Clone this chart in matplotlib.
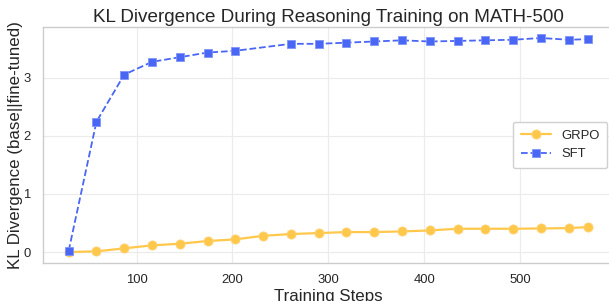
import matplotlib
matplotlib.use("Agg")
import matplotlib.pyplot as plt
import seaborn as sns

sns.set_theme(style="whitegrid")
plt.rcParams['font.family'] = ['Liberation Sans', 'DejaVu Sans']

grpo_steps = [29, 58, 87, 116, 145, 174, 203, 232, 261, 290, 319, 348, 377, 406, 435, 464, 493, 522, 551, 571]
grpo_kl = [0.0, 0.011, 0.063, 0.114, 0.143, 0.189, 0.217, 0.279, 0.309, 0.326, 0.343, 0.343,
           0.354, 0.371, 0.40, 0.40, 0.40, 0.405, 0.411, 0.429]

sft_steps = [29, 58, 87, 116, 145, 174, 203, 261, 290, 319, 348, 377, 406, 435, 464, 493, 522, 551, 571]
sft_kl = [0.02, 2.24, 3.05, 3.27, 3.35, 3.43, 3.46, 3.58, 3.58, 3.60, 3.62, 3.64, 3.62, 3.63,
          3.64, 3.65, 3.68, 3.65, 3.66]

fig = plt.figure(figsize=(6.09, 3.01), dpi=100)
ax = fig.add_axes([0.0701, 0.1272, 1.008 - 0.0701, 0.9093 - 0.1272])

ax.plot(grpo_steps, grpo_kl, '-o', color='#FFC84A', lw=1.6, ms=6.6, label='GRPO',
        markeredgecolor='#FFD27A', markeredgewidth=0.6)
ax.plot(sft_steps, sft_kl, '--s', color='#4A66F5', lw=1.3, ms=6.3, label='SFT',
        markeredgecolor='#7F95F8', markeredgewidth=0.6)

ax.set_title('KL Divergence During Reasoning Training on MATH-500', fontsize=13.6, color='#262626', pad=4)
ax.set_xlabel('Training Steps', fontsize=12.2, color='#262626', labelpad=2)
ax.set_ylabel('KL Divergence (base||fine-tuned)', fontsize=12.2, color='#262626', labelpad=0.5)
ax.tick_params(axis='y', pad=2.8)
ax.tick_params(axis='x', pad=2)
ax.tick_params(axis='both', labelsize=9.4, colors='#262626')
ax.set_yticks([0, 1, 2, 3])
ax.set_xticks([100, 200, 300, 400, 500])
ax.grid(True, color='#ebebeb', lw=0.8)
for s in ax.spines.values():
    s.set_color('#cccccc')
    s.set_linewidth(1.0)

ax.legend(loc='center right', fontsize=9.4, frameon=True, edgecolor='#d0d0d0', framealpha=1.0,
          handlelength=2.3, borderpad=0.6, labelspacing=0.5, borderaxespad=0.5)

fig.savefig('out.png', dpi=100)
